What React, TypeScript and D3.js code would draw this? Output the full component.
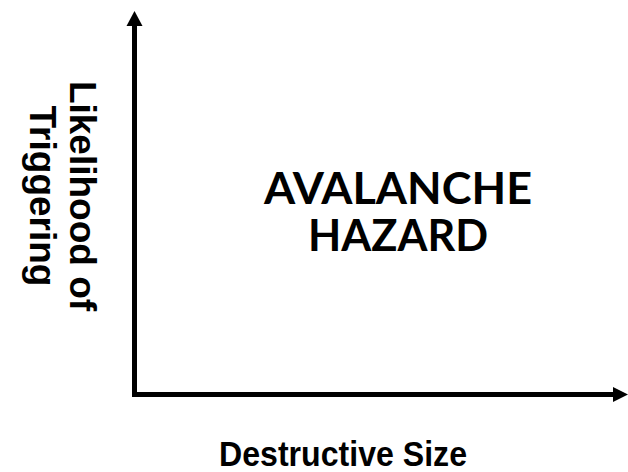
import React, { useEffect, useRef } from 'react';
import * as d3 from 'd3';

const W = 628;
const H = 472;

// conceptual diagram: both axes run 0..1, no ticks
const xDomain = [0, 1];
const yDomain = [0, 1];
const xTitle = 'Destructive Size';
const yTitleLines = ['Likelihood of', 'Triggering'];
const centerLines = ['AVALANCHE', 'HAZARD'];

export default function App() {
  const ref = useRef<SVGSVGElement | null>(null);

  useEffect(() => {
    const svg = d3.select(ref.current);
    svg.selectAll('*').remove();

    const x = d3.scaleLinear().domain(xDomain).range([134.5, 628]);
    const y = d3.scaleLinear().domain(yDomain).range([394.5, 11]);

    const head = 15;
    const g = svg.append('g');

    // y axis line + arrowhead
    g.append('line')
      .attr('x1', x(0))
      .attr('x2', x(0))
      .attr('y1', y(0) + 2.5)
      .attr('y2', y(1) + head)
      .attr('stroke', '#000')
      .attr('stroke-width', 5);
    g.append('path')
      .attr(
        'd',
        `M${x(0)},${y(1)} L${x(0) + 8},${y(1) + head} L${x(0) - 8},${y(1) + head} Z`
      )
      .attr('fill', '#000');

    // x axis line + arrowhead
    g.append('line')
      .attr('x1', x(0) - 2.5)
      .attr('x2', x(1) - head)
      .attr('y1', y(0))
      .attr('y2', y(0))
      .attr('stroke', '#000')
      .attr('stroke-width', 5);
    g.append('path')
      .attr(
        'd',
        `M${x(1)},${y(0)} L${x(1) - head},${y(0) - 7.5} L${x(1) - head},${y(0) + 7.5} Z`
      )
      .attr('fill', '#000');

    // x title
    svg
      .append('text')
      .attr('x', 219)
      .attr('y', 466)
      .attr('font-family', '"Liberation Sans", Arial, sans-serif')
      .attr('font-weight', 'bold')
      .attr('font-size', 35)
      .attr('textLength', 248)
      .attr('lengthAdjust', 'spacingAndGlyphs')
      .text(xTitle);

    // y title, rotated clockwise, first line on the right
    const yt = svg
      .append('g')
      .attr('transform', 'translate(70,196) rotate(90)');
    yt.selectAll('text')
      .data(yTitleLines)
      .enter()
      .append('text')
      .attr('x', 0)
      .attr('y', (d, i) => i * 40)
      .attr('text-anchor', 'middle')
      .attr('font-family', '"Liberation Sans", Arial, sans-serif')
      .attr('font-weight', 'bold')
      .attr('font-size', 37)
      .text(d => d);

    // centre label
    svg
      .append('g')
      .selectAll('text')
      .data(centerLines)
      .enter()
      .append('text')
      .attr('x', 398)
      .attr('y', (d, i) => 204 + i * 47)
      .attr('text-anchor', 'middle')
      .attr('font-family', 'Lato, "Open Sans", sans-serif')
      .attr('font-weight', 'bold')
      .attr('font-size', 44)
      .attr('textLength', d => (d === 'AVALANCHE' ? 268 : 180))
      .attr('lengthAdjust', 'spacingAndGlyphs')
      .text(d => d);
  }, []);

  return (
    <svg
      ref={ref}
      width={W}
      height={H}
      style={{ position: 'absolute', left: 0, top: 0, background: '#fff' }}
    />
  );
}
